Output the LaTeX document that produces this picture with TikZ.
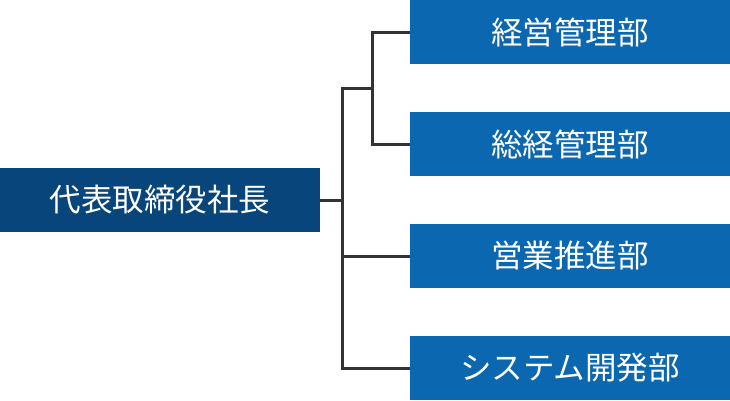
\documentclass[tikz,border=0pt]{standalone}
\usepackage{fontspec}
\newfontfamily\jpfont{Noto Sans CJK JP}
\definecolor{topblue}{HTML}{08457A}
\definecolor{deptblue}{HTML}{0A67B0}
\definecolor{linegray}{HTML}{333333}
\begin{document}
\begin{tikzpicture}[x=1pt,y=-1pt,
  box/.style={draw=none,minimum height=64pt,inner sep=0pt,text=white,font=\jpfont\fontsize{31.5}{34}\selectfont},
  ceo/.style={box,fill=topblue,minimum width=320pt},
  dept/.style={box,fill=deptblue,minimum width=320pt},
  link/.style={draw=linegray,line width=3pt}]
\useasboundingbox (0,0) rectangle (730,400);
\node[ceo] (ceo) at (160,200) {代表取締役社長};
\node[dept] (d1) at (570,32) {経営管理部};
\node[dept] (d2) at (570,144) {総経管理部};
\node[dept] (d3) at (570,256) {営業推進部};
\node[dept] (d4) at (570,368) {システム開発部};
\coordinate (m1) at (342,88);
\coordinate (m4) at (342,368);
\coordinate (b1) at (372,32);
\coordinate (b2) at (372,144);
\coordinate (mb) at (372,88);
\draw[link] (ceo.east) -- (342,200);
\draw[link] (d4.west) -- (m4) -- (m1) -- (mb);
\draw[link] (d3.west) -- (342,256);
\draw[link] (d1.west) -- (b1) -- (b2) -- (d2.west);
\end{tikzpicture}
\end{document}
